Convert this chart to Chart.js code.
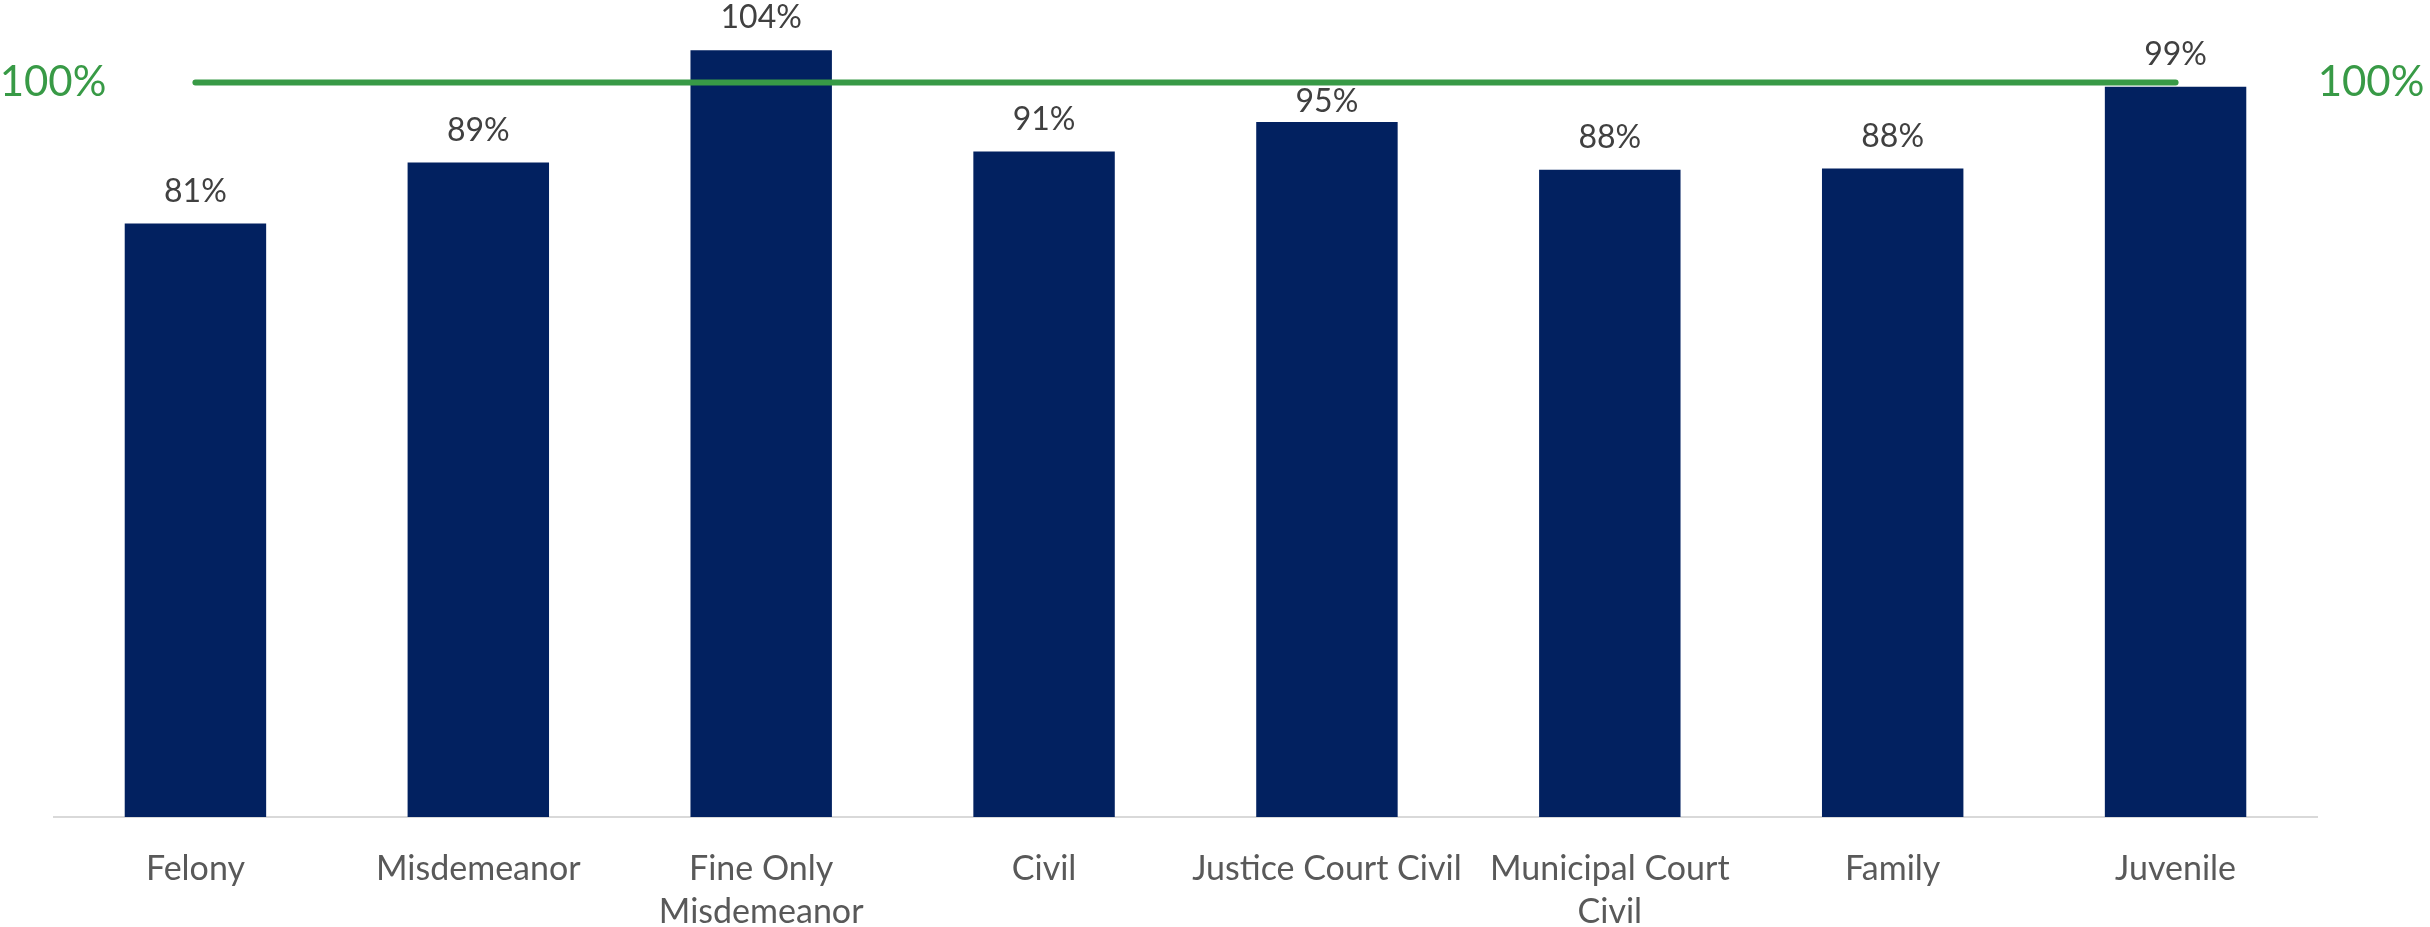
<!DOCTYPE html>
<html>
<head>
<meta charset="utf-8">
<script src="https://cdn.jsdelivr.net/npm/chart.js@4/dist/chart.umd.min.js"></script>
<style>
  html, body { margin: 0; padding: 0; background: #fff; }
  canvas { display: block; }
</style>
</head>
<body>
<canvas id="clearanceChart" width="2430" height="927"></canvas>
<script>
const categories = [
  "Felony",
  "Misdemeanor",
  ["Fine Only", "Misdemeanor"],
  "Civil",
  "Justice Court Civil",
  ["Municipal Court", "Civil"],
  "Family",
  "Juvenile",
];
const clearanceRates = [0.808, 0.891, 1.044, 0.906, 0.946, 0.881, 0.883, 0.994];
const targetRate = [1, 1, 1, 1, 1, 1, 1, 1];
const targetLabel = "100%";

const navy = "#022160";
const green = "#389A46";
const fontFamily = "Lato, 'Open Sans', sans-serif";

// labels above bars + the green 100% labels at both ends
const labelPlugin = {
  id: "labels",
  afterDatasetsDraw(chart) {
    const ctx = chart.ctx;
    const meta = chart.getDatasetMeta(1);
    const lineY = chart.scales.y.getPixelForValue(1);
    ctx.save();
    ctx.font = "32px " + fontFamily;
    ctx.fillStyle = "#404040";
    ctx.textAlign = "center";
    ctx.textBaseline = "middle";
    meta.data.forEach((bar, i) => {
      let y = bar.y - 32;
      // keep the label off the target line
      if (Math.abs(y - lineY) < 20) y = bar.y - 20;
      ctx.fillText(Math.round(clearanceRates[i] * 100) + "%", bar.x, y);
    });

    ctx.font = "42px " + fontFamily;
    ctx.fillStyle = green;
    ctx.fillText(targetLabel, 53, lineY);
    ctx.fillText(targetLabel, 2371, lineY);
    ctx.restore();
  },
};

const chart = new Chart(document.getElementById("clearanceChart"), {
  type: "bar",
  data: {
    labels: categories,
    datasets: [
      {
        type: "line",
        data: targetRate,
        borderColor: green,
        borderWidth: 6,
        borderCapStyle: "round",
        pointRadius: 0,
        order: 0,
      },
      {
        type: "bar",
        data: clearanceRates,
        backgroundColor: navy,
        barPercentage: 0.5,
        categoryPercentage: 1.0,
        order: 1,
      },
    ],
  },
  options: {
    responsive: false,
    animation: false,
    layout: { padding: { left: 54, right: 113, top: 9, bottom: 0 } },
    plugins: {
      legend: { display: false },
      tooltip: { enabled: false },
    },
    scales: {
      x: {
        grid: { display: false },
        border: { color: "#D9D9D9", width: 2 },
        ticks: {
          color: "#595959",
          font: { family: fontFamily, size: 34, lineHeight: "43px" },
          padding: 23,
          maxRotation: 0,
          autoSkip: false,
        },
        afterFit(scale) {
          scale.height = 110;
        },
      },
      y: {
        display: false,
        min: 0,
        max: 1.1,
      },
    },
  },
  plugins: [labelPlugin],
});
</script>
</body>
</html>
